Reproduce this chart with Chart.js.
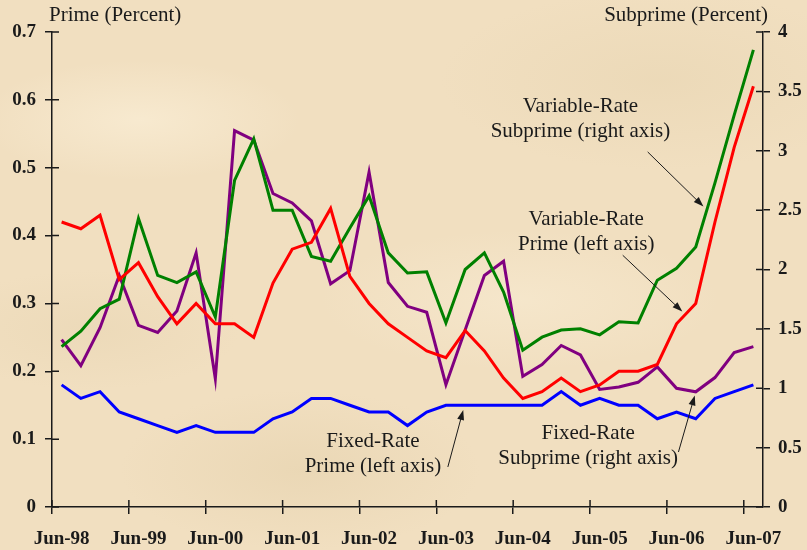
<!DOCTYPE html>
<html>
<head>
<meta charset="utf-8">
<script src="https://cdn.jsdelivr.net/npm/chart.js"></script>
<style>
  html, body { margin: 0; padding: 0; }
  #wrap {
    width: 807px; height: 550px;
    background-color: #f1dfc0;
    background-image:
      radial-gradient(ellipse 160px 60px at 140px 120px, rgba(250,238,214,0.7), rgba(250,238,214,0)),
      radial-gradient(ellipse 200px 70px at 520px 300px, rgba(248,235,210,0.6), rgba(248,235,210,0)),
      radial-gradient(ellipse 180px 80px at 300px 470px, rgba(226,206,168,0.45), rgba(226,206,168,0)),
      radial-gradient(ellipse 220px 90px at 660px 80px, rgba(228,209,172,0.4), rgba(228,209,172,0)),
      radial-gradient(ellipse 150px 60px at 90px 330px, rgba(229,210,174,0.4), rgba(229,210,174,0));
  }
</style>
</head>
<body>
<div id="wrap"><canvas id="chart" width="807" height="550"></canvas></div>
<script>
// quarterly, Jun-98 .. Jun-07
const quarters = [
  "Jun-98", "Sep-98", "Dec-98", "Mar-99", "Jun-99", "Sep-99", "Dec-99", "Mar-00",
  "Jun-00", "Sep-00", "Dec-00", "Mar-01", "Jun-01", "Sep-01", "Dec-01", "Mar-02",
  "Jun-02", "Sep-02", "Dec-02", "Mar-03", "Jun-03", "Sep-03", "Dec-03", "Mar-04",
  "Jun-04", "Sep-04", "Dec-04", "Mar-05", "Jun-05", "Sep-05", "Dec-05", "Mar-06",
  "Jun-06", "Sep-06", "Dec-06", "Mar-07", "Jun-07"
];

// left axis (prime, percent)
const varPrime = [0.42, 0.41, 0.43, 0.335, 0.36, 0.31, 0.27, 0.30, 0.27, 0.27, 0.25, 0.33, 0.38,
  0.39, 0.44, 0.34, 0.30, 0.27, 0.25, 0.23, 0.22, 0.26, 0.23, 0.19, 0.16, 0.17, 0.19, 0.17, 0.18,
  0.20, 0.20, 0.21, 0.27, 0.30, 0.42, 0.53, 0.62];
const fixedPrime = [0.18, 0.16, 0.17, 0.14, 0.13, 0.12, 0.11, 0.12, 0.11, 0.11, 0.11, 0.13, 0.14,
  0.16, 0.16, 0.15, 0.14, 0.14, 0.12, 0.14, 0.15, 0.15, 0.15, 0.15, 0.15, 0.15, 0.17, 0.15, 0.16,
  0.15, 0.15, 0.13, 0.14, 0.13, 0.16, 0.17, 0.18];

// right axis (subprime, percent)
const varSubprime = [1.35, 1.48, 1.67, 1.75, 2.43, 1.95, 1.89, 1.98, 1.60, 2.75, 3.10, 2.50, 2.50,
  2.11, 2.07, 2.35, 2.62, 2.14, 1.97, 1.98, 1.55, 2.00, 2.14, 1.81, 1.32, 1.43, 1.49, 1.50, 1.45,
  1.56, 1.55, 1.91, 2.01, 2.19, 2.73, 3.30, 3.85];
const fixedSubprime = [1.41, 1.19, 1.51, 1.95, 1.53, 1.47, 1.65, 2.14, 1.08, 3.17, 3.09, 2.64, 2.56,
  2.41, 1.88, 1.99, 2.82, 1.89, 1.69, 1.64, 1.03, 1.49, 1.95, 2.07, 1.10, 1.20, 1.36, 1.28, 0.99,
  1.01, 1.05, 1.18, 1.00, 0.97, 1.09, 1.30, 1.35];

const primeTitle = "Prime (Percent)";
const subprimeTitle = "Subprime (Percent)";

// callouts: text anchored at (category index, axis value), arrow from -> to
const notes = [
  { lines: ["Variable-Rate", "Subprime (right axis)"], axis: "ySub", at: [27.0, 3.37], from: [30.5, 2.99], to: [33.4, 2.53] },
  { lines: ["Variable-Rate", "Prime (left axis)"], axis: "yPrime", at: [27.3, 0.423], from: [29.2, 0.371], to: [32.3, 0.288] },
  { lines: ["Fixed-Rate", "Prime (left axis)"], axis: "yPrime", at: [16.2, 0.096], from: [20.1, 0.059], to: [20.9, 0.143] },
  { lines: ["Fixed-Rate", "Subprime (right axis)"], axis: "ySub", at: [27.4, 0.615], from: [32.1, 0.463], to: [32.95, 0.94] }
];

const serif = "'Liberation Serif', 'Times New Roman', serif";
const ink = "#1a1a1a";

// inner half of the crossing tick marks, axis titles and callouts
const crossTicks = {
  id: "crossTicks",
  afterDraw(chart) {
    const { ctx, chartArea, scales } = chart;
    const x = scales.x, yl = scales.yPrime, yr = scales.ySub;
    ctx.save();
    ctx.strokeStyle = ink;
    ctx.lineWidth = 1.5;
    ctx.beginPath();
    const half = (x.getPixelForValue(1) - x.getPixelForValue(0)) / 2;
    for (let i = 0; i < quarters.length; i += 4) {
      const px = x.getPixelForValue(i) - half;
      ctx.moveTo(px, chartArea.bottom);
      ctx.lineTo(px, chartArea.bottom - 7);
    }
    yl.ticks.forEach(t => {
      const py = yl.getPixelForValue(t.value);
      ctx.moveTo(chartArea.left, py);
      ctx.lineTo(chartArea.left + 7, py);
    });
    yr.ticks.forEach(t => {
      const py = yr.getPixelForValue(t.value);
      ctx.moveTo(chartArea.right, py);
      ctx.lineTo(chartArea.right - 7, py);
    });
    ctx.stroke();

    // axis titles
    ctx.fillStyle = ink;
    ctx.font = "21px " + serif;
    ctx.textBaseline = "middle";
    ctx.textAlign = "left";
    ctx.fillText(primeTitle, chartArea.left - 3, 15);
    ctx.textAlign = "right";
    ctx.fillText(subprimeTitle, chartArea.right + 5, 15);

    // callouts
    ctx.textAlign = "center";
    notes.forEach(n => {
      const ys = scales[n.axis];
      const tx = x.getPixelForValue(n.at[0]);
      const ty = ys.getPixelForValue(n.at[1]);
      n.lines.forEach((l, i) => ctx.fillText(l, tx, ty + i * 25));

      const x1 = x.getPixelForValue(n.from[0]), y1 = ys.getPixelForValue(n.from[1]);
      const x2 = x.getPixelForValue(n.to[0]), y2 = ys.getPixelForValue(n.to[1]);
      const a = Math.atan2(y2 - y1, x2 - x1);
      ctx.lineWidth = 1;
      ctx.beginPath();
      ctx.moveTo(x1, y1);
      ctx.lineTo(x2 - 6 * Math.cos(a), y2 - 6 * Math.sin(a));
      ctx.stroke();
      ctx.beginPath();
      ctx.moveTo(x2, y2);
      ctx.lineTo(x2 - 10 * Math.cos(a) + 3.5 * Math.sin(a), y2 - 10 * Math.sin(a) - 3.5 * Math.cos(a));
      ctx.lineTo(x2 - 10 * Math.cos(a) - 3.5 * Math.sin(a), y2 - 10 * Math.sin(a) + 3.5 * Math.cos(a));
      ctx.closePath();
      ctx.fill();
    });
    ctx.restore();
  }
};

const line = (data, color, axis) => ({
  data: data,
  yAxisID: axis,
  borderColor: color,
  backgroundColor: color,
  borderWidth: 3,
  pointRadius: 0,
  tension: 0,
  fill: false
});

new Chart(document.getElementById("chart"), {
  type: "line",
  data: {
    labels: quarters,
    datasets: [
      line(varPrime, "#ff0000", "yPrime"),
      line(fixedPrime, "#0000ff", "yPrime"),
      line(varSubprime, "#008000", "ySub"),
      line(fixedSubprime, "#800080", "ySub")
    ]
  },
  options: {
    responsive: false,
    animation: false,
    layout: { padding: { top: 32, left: 0, right: 0, bottom: 0 } },
    plugins: { legend: { display: false }, tooltip: { enabled: false } },
    scales: {
      x: {
        offset: true,
        grid: {
          offset: true,
          drawOnChartArea: false,
          tickLength: 7,
          lineWidth: 1.5,
          color: c => (c.index % 4 === 0 ? ink : "rgba(0,0,0,0)")
        },
        border: { color: ink, width: 1.5 },
        ticks: {
          autoSkip: false,
          maxRotation: 0,
          padding: 14,
          color: ink,
          font: { family: serif, size: 19, weight: "bold" },
          callback: (v, i) => (i % 4 === 0 ? quarters[i] : "")
        },
        afterFit: s => { s.height = 43; }
      },
      yPrime: {
        position: "left",
        min: 0, max: 0.7,
        grid: { drawOnChartArea: false, tickLength: 7, lineWidth: 1.5, color: ink },
        border: { color: ink, width: 1.5 },
        ticks: {
          stepSize: 0.1,
          padding: 9,
          color: ink,
          font: { family: serif, size: 19, weight: "bold" },
          callback: v => String(Math.round(v * 10) / 10)
        },
        afterFit: s => { s.width = 52; }
      },
      ySub: {
        position: "right",
        min: 0, max: 4,
        grid: { drawOnChartArea: false, tickLength: 7, lineWidth: 1.5, color: ink },
        border: { color: ink, width: 1.5 },
        ticks: {
          stepSize: 0.5,
          padding: 8,
          color: ink,
          font: { family: serif, size: 19, weight: "bold" },
          callback: v => String(Math.round(v * 10) / 10)
        },
        afterFit: s => { s.width = 44; }
      }
    }
  },
  plugins: [crossTicks]
});
</script>
</body>
</html>
